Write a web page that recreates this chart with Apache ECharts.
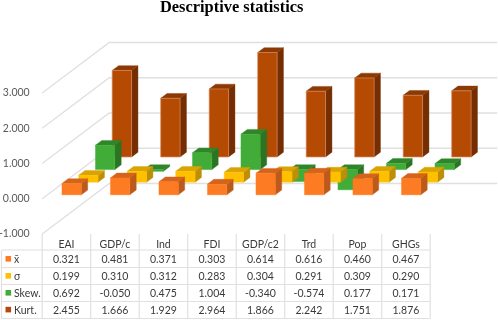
<!DOCTYPE html>
<html><head><meta charset="utf-8">
<style>html,body{margin:0;padding:0;background:#fff}#c{width:498px;height:320px}</style>
<script src="https://cdn.jsdelivr.net/npm/echarts@6/dist/echarts.min.js"></script>
</head><body><div id="c"></div>
<script>
const categories = ['EAI','GDP/c','Ind','FDI','GDP/c2','Trd','Pop','GHGs'];
const mean  = [0.321,0.481,0.371,0.303,0.614,0.616,0.460,0.467];
const sd    = [0.199,0.310,0.312,0.283,0.304,0.291,0.309,0.290];
const skew  = [0.692,-0.050,0.475,1.004,-0.340,-0.574,0.177,0.171];
const kurt  = [2.455,1.666,1.929,2.964,1.866,2.242,1.751,1.876];
const ticks = [-1,0,1,2,3];
const rowNames = ['x\u0304','σ','Skew.','Kurt.'];
const rowValues = [mean,sd,skew,kurt];
const faces = [
  {front:'#FD7B22',side:'#BC5A1B',top:'#D4631C'},
  {front:'#FFC000',side:'#BD8F08',top:'#D9A304'},
  {front:'#41AD38',side:'#2A7523',top:'#2F8529'},
  {front:'#B54A02',side:'#752D02',top:'#8C3903',edge:'#D98A60'}
];
const swatches = ['#FD7B22','#FFC000','#41AD38','#B8470F'];

const L=42.2, W=388, T=93, H=141;
const rowDx=16.75, rowDy=12.62, inset=0.31, thick=0.38, barW=0.4;
const FONT='Lato, "Open Sans", sans-serif';
const GRID='#E0E0E0', TXT='#3A3A3A';

function poly(points,fill,stroke,lw){
  return {type:'polygon',shape:{points},style:{fill,stroke:stroke||fill,lineWidth:lw||0.4}};
}
function barSeries(row){
  const c=faces[row];
  return {
    type:'custom',name:rowNames[row],coordinateSystem:'cartesian2d',clip:false,z:5,
    encode:{x:0,y:1},
    data:rowValues[row].map((v,i)=>[i,v]),
    renderItem(params,api){
      const i=api.value(0),v=api.value(1);
      const base=api.coord([i,0]),tip=api.coord([i,v]);
      const band=api.size([1,0])[0];
      const w=band*barW;
      const ox=(row+inset)*rowDx, oy=-(row+inset)*rowDy;
      const dx=thick*rowDx, dy=-thick*rowDy;
      const x0=base[0]+ox-w/2, x1=x0+w;
      const yt=Math.min(base[1],tip[1])+oy, yb=Math.max(base[1],tip[1])+oy;
      return {type:'group',children:[
        poly([[x1,yt],[x1+dx,yt+dy],[x1+dx,yb+dy],[x1,yb]],c.side),
        poly([[x0,yt],[x0+dx,yt+dy],[x1+dx,yt+dy],[x1,yt]],c.top),
        poly([[x0,yt],[x1,yt],[x1,yb],[x0,yb]],c.front,c.edge,c.edge?0.7:0.4)
      ]};
    }
  };
}
const wallSeries={
  type:'custom',name:'walls',coordinateSystem:'cartesian2d',clip:false,z:1,silent:true,
  encode:{y:0},
  data:ticks.map(v=>[v]),
  renderItem(params,api){
    const v=api.value(0);
    const band=api.size([1,0])[0];
    const p0=api.coord([0,v]),p7=api.coord([categories.length-1,0]);
    const xf=p0[0]-band/2, xr=p7[0]+band/2;
    const bx=rowDx*4, by=rowDy*4;
    return {type:'polyline',shape:{points:[[xf,p0[1]],[xf+bx,p0[1]-by],[xr+bx,p0[1]-by]]},
      style:{stroke:GRID,lineWidth:1.4,fill:null}};
  }
};
const rowY=[259.4,276.4,293.4,310.2];
function cellSeries(row){
  return {
    type:'custom',name:'cells '+rowNames[row],coordinateSystem:'cartesian2d',clip:false,z:6,silent:true,
    encode:{x:0,y:1},
    data:rowValues[row].map((v,i)=>[i,v]),
    renderItem(params,api){
      const x=api.coord([api.value(0),0])[0];
      return {type:'text',x:x,y:rowY[row],style:{text:api.value(1).toFixed(3),align:'center',verticalAlign:'middle',
        font:'10.5px '+FONT,fill:TXT}};
    }
  };
}
const tableGraphic=[];
const hLines=[[L,250,L+W,250],[1.5,250,L,250]];
[267.5,284.5,301.5,318.5].forEach(y=>hLines.push([1.5,y,L+W,y]));
hLines.forEach(s=>tableGraphic.push({type:'line',shape:{x1:s[0],y1:s[1],x2:s[2],y2:s[3]},style:{stroke:GRID,lineWidth:1.2},silent:true}));
for(let i=0;i<=categories.length;i++){
  const x=L+W*i/categories.length;
  tableGraphic.push({type:'line',shape:{x1:x,y1:234,x2:x,y2:318.5},style:{stroke:GRID,lineWidth:1.2},silent:true});
}
tableGraphic.push({type:'line',shape:{x1:1.5,y1:250,x2:1.5,y2:318.5},style:{stroke:GRID,lineWidth:1.2},silent:true});
rowNames.forEach((n,r)=>{
  tableGraphic.push({type:'rect',shape:{x:5.5,y:rowY[r]-3.4,width:5.6,height:5.6},style:{fill:swatches[r]},silent:true});
  tableGraphic.push({type:'text',x:14,y:rowY[r],style:{text:n,align:'left',verticalAlign:'middle',font:'10.5px '+FONT,fill:TXT},silent:true});
});

const chart=echarts.init(document.getElementById('c'),null,{renderer:'canvas'});
chart.setOption({
  animation:false,
  title:{text:'Descriptive statistics',left:160,top:0,padding:0,
    textStyle:{fontFamily:'"Liberation Serif",serif',fontWeight:'bold',fontSize:16.4,color:'#000'}},
  grid:{left:L,top:T,width:W,height:H,containLabel:false,outerBoundsMode:'none'},
  xAxis:{type:'category',data:categories,position:'bottom',
    axisLine:{show:false},axisTick:{show:false},splitLine:{show:false},
    axisLabel:{margin:5.5,interval:0,fontFamily:FONT,fontSize:10.5,color:TXT}},
  yAxis:{type:'value',min:-1,max:3,interval:1,axisLine:{show:false},axisTick:{show:false},splitLine:{show:false},
    axisLabel:{margin:12.5,padding:[2,0,0,0],fontFamily:FONT,fontSize:10.5,color:'#595959',formatter:v=>v.toFixed(3)}},
  graphic:tableGraphic,
  series:[wallSeries,barSeries(3),barSeries(2),barSeries(1),barSeries(0),cellSeries(0),cellSeries(1),cellSeries(2),cellSeries(3)]
});
</script></body></html>
